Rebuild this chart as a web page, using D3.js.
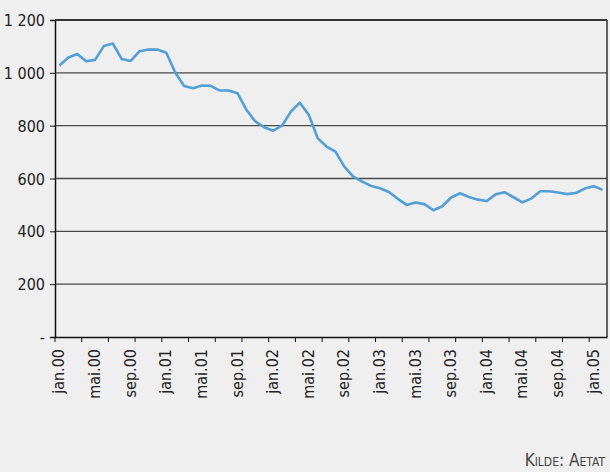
<!DOCTYPE html>
<html>
<head>
<meta charset="utf-8">
<script src="https://cdn.jsdelivr.net/npm/d3@7"></script>
<style>
  html, body { margin: 0; padding: 0; background: #efefef; }
  svg { display: block; }
  .axis text { font-family: "Liberation Sans Narrow", "DejaVu Sans Condensed", sans-serif; font-size: 16px; fill: #222; }
  .source { font-family: "Liberation Sans Narrow", "DejaVu Sans Condensed", sans-serif; font-size: 17px; fill: #444; font-variant: small-caps; }
</style>
</head>
<body>
<div id="chart"></div>
<script>
// månedlige observasjoner, jan.00 - feb.05
const monthNames = ['jan', 'feb', 'mar', 'apr', 'mai', 'jun', 'jul', 'aug', 'sep', 'okt', 'nov', 'des'];
const startYear = 2000;
const values = [
  1028, 1058, 1071, 1044, 1049, 1102, 1111, 1052, 1045, 1082, 1088, 1088,
  1076, 1001, 950, 942, 952, 951, 933, 933, 923, 860, 816, 794,
  781, 800, 853, 887, 841, 753, 721, 702, 645, 607, 588, 572,
  563, 549, 523, 500, 509, 503, 480, 495, 528, 544, 530, 520,
  515, 540, 548, 529, 510, 524, 552, 552, 547, 541, 545, 562,
  571, 557
];
const yTicks = [0, 200, 400, 600, 800, 1000, 1200];
const sourceText = 'Kilde: Aetat';

const categories = values.map((v, i) => {
  const m = i % 12;
  const y = (startYear + Math.floor(i / 12)) % 100;
  return monthNames[m] + '.' + String(y).padStart(2, '0');
});
const data = values.map((v, i) => ({ label: categories[i], value: v }));

function drawChart() {
  const svgWidth = 610;
  const svgHeight = 472;
  const margin = { top: 20, right: 3, bottom: 135, left: 55 };
  const width = svgWidth - margin.left - margin.right;
  const height = svgHeight - margin.top - margin.bottom;

  const svg = d3.select('#chart')
    .append('svg')
    .attr('width', svgWidth)
    .attr('height', svgHeight);

  const g = svg.append('g')
    .attr('transform', `translate(${margin.left},${margin.top})`);

  const xScale = d3.scaleBand()
    .domain(categories)
    .range([0, width])
    .paddingInner(0)
    .paddingOuter(0);

  const yScale = d3.scaleLinear()
    .domain([0, 1200])
    .range([height, 0]);

  // rutenett
  g.append('g')
    .selectAll('line')
    .data(yTicks.filter(d => d > 0))
    .join('line')
    .attr('x1', 0)
    .attr('x2', width)
    .attr('y1', d => yScale(d))
    .attr('y2', d => yScale(d))
    .attr('stroke', '#4a4a4a')
    .attr('stroke-width', 1.3);

  // høyre kant
  g.append('line')
    .attr('x1', width).attr('x2', width)
    .attr('y1', 0).attr('y2', height)
    .attr('stroke', '#333')
    .attr('stroke-width', 1.5);

  // y-akse
  const yAxis = g.append('g')
    .attr('class', 'axis y-axis')
    .call(d3.axisLeft(yScale)
      .tickValues(yTicks)
      .tickSize(5)
      .tickFormat(d => d === 0 ? '-' : d3.format(',')(d).replace(',', ' ')));
  yAxis.select('.domain').attr('stroke', '#111').attr('stroke-width', 1.5);
  yAxis.selectAll('.tick line').attr('stroke', '#111');
  yAxis.selectAll('.tick text').attr('x', -10).attr('dy', '0.35em');

  // x-akse: merker hver 3. måned, etiketter hver 4. måned
  const tickCats = categories.filter((c, i) => i % 3 === 0);
  const xAxis = g.append('g')
    .attr('class', 'axis x-axis')
    .attr('transform', `translate(0,${height})`)
    .call(d3.axisBottom(xScale).tickValues([]).tickSizeOuter(0));
  xAxis.select('.domain').attr('stroke', '#111').attr('stroke-width', 1.5);

  xAxis.selectAll('.cat-tick')
    .data(tickCats)
    .join('line')
    .attr('class', 'cat-tick')
    .attr('x1', d => xScale(d))
    .attr('x2', d => xScale(d))
    .attr('y1', 0)
    .attr('y2', 5)
    .attr('stroke', '#111');

  xAxis.selectAll('.cat-label')
    .data(categories.filter((c, i) => i % 4 === 0))
    .join('text')
    .attr('class', 'cat-label')
    .attr('text-anchor', 'end')
    .attr('transform', d => `translate(${xScale(d) + xScale.bandwidth() / 2 + 5},12) rotate(-90)`)
    .text(d => d);

  // linje
  const line = d3.line()
    .x(d => xScale(d.label) + xScale.bandwidth() / 2)
    .y(d => yScale(d.value));

  g.append('path')
    .datum(data)
    .attr('fill', 'none')
    .attr('stroke', '#529fd5')
    .attr('stroke-width', 2.6)
    .attr('stroke-linejoin', 'round')
    .attr('d', line);

  // topp-kant
  g.append('line')
    .attr('x1', 0).attr('x2', width)
    .attr('y1', 0).attr('y2', 0)
    .attr('stroke', '#222')
    .attr('stroke-width', 1.5);

  svg.append('text')
    .attr('class', 'source')
    .attr('x', svgWidth - 5)
    .attr('y', svgHeight - 6)
    .attr('text-anchor', 'end')
    .text(sourceText);
}

drawChart();
</script>
</body>
</html>
